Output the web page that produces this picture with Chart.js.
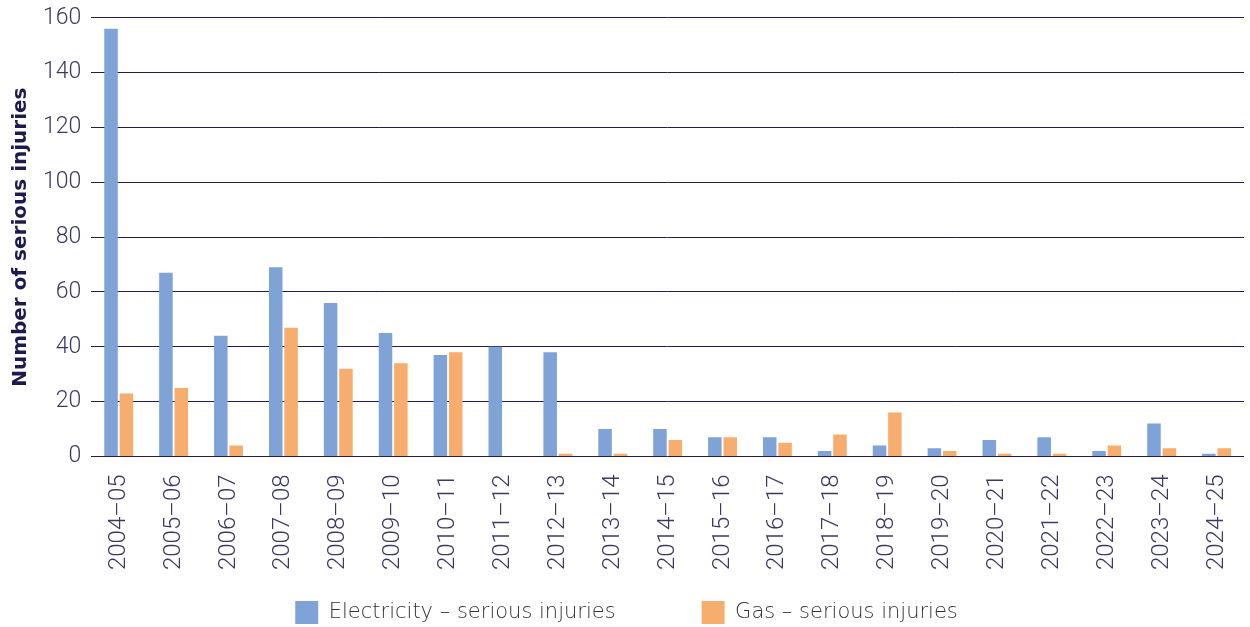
<!DOCTYPE html>
<html>
<head>
<meta charset="utf-8">
<script src="https://cdn.jsdelivr.net/npm/chart.js@4.4.1/dist/chart.umd.min.js"></script>
<style>
  html, body { margin: 0; padding: 0; background: #ffffff; overflow: hidden; }
  #wrap { position: relative; width: 1250px; height: 627px; overflow: hidden; }
  #c { display: block; }
</style>
</head>
<body>
<div id="wrap"><canvas id="c"></canvas></div>
<script>
const categories = ['2004–05','2005–06','2006–07','2007–08','2008–09','2009–10','2010–11','2011–12','2012–13','2013–14','2014–15','2015–16','2016–17','2017–18','2018–19','2019–20','2020–21','2021–22','2022–23','2023–24','2024–25'];
const electricityInjuries = [156, 67, 44, 69, 56, 45, 37, 40, 38, 10, 10, 7, 7, 2, 4, 3, 6, 7, 2, 12, 1];
const gasInjuries = [23, 25, 4, 47, 32, 34, 38, 0, 1, 1, 6, 7, 5, 8, 16, 2, 1, 1, 4, 3, 3];
const yTicks = [0, 20, 40, 60, 80, 100, 120, 140, 160];
const seriesLabels = ['Electricity – serious injuries', 'Gas – serious injuries'];
const yAxisTitle = 'Number of serious injuries';

const ITEM_GAP = 86;      // horizontal gap between legend items
const LEGEND_V = 13;      // offset of legend items from legend top
const LEGEND_H = 39;      // legend box height

const legendGapPlugin = {
  id: 'legendGap',
  beforeLayout(chart) {
    const lg = chart.legend;
    if (!lg || lg._gapPatched) return;
    lg._gapPatched = true;
    const fit = lg.fit;
    const innerDraw = lg._draw;
    lg.fit = function () {
      fit.call(this);
      this.height = LEGEND_H;
    };
    lg._draw = function () {
      const p = this.options.labels.padding;
      this.ctx.save();
      this.ctx.translate(0, LEGEND_V - p);
      innerDraw.apply(this, arguments);
      this.ctx.restore();
    };
  }
};

const tickColor = '#3b3863';
const gridColor = '#221d50';

new Chart(document.getElementById('c'), {
  type: 'bar',
  data: {
    labels: categories,
    datasets: [
      { label: seriesLabels[0], data: electricityInjuries, backgroundColor: '#7fa3d6', borderWidth: 0 },
      { label: seriesLabels[1], data: gasInjuries, backgroundColor: '#f7ad6e', borderWidth: 0 }
    ]
  },
  plugins: [legendGapPlugin],
  options: {
    responsive: true,
    maintainAspectRatio: false,
    animation: false,
    devicePixelRatio: 1,
    layout: { padding: { left: 9, right: 6, top: 0, bottom: 0 } },
    datasets: { bar: { categoryPercentage: 0.56, barPercentage: 0.88 } },
    plugins: {
      tooltip: { enabled: false },
      legend: {
        position: 'bottom',
        labels: {
          boxWidth: 23,
          boxHeight: 23,
          padding: ITEM_GAP,
          color: '#333333',
          font: { family: '"DejaVu Sans"', size: 21, weight: 200 }
        }
      }
    },
    scales: {
      x: {
        grid: { display: false, drawTicks: false },
        border: { display: false },
        ticks: {
          autoSkip: false,
          minRotation: 90,
          maxRotation: 90,
          padding: 18,
          color: tickColor,
          font: { family: 'Roboto', size: 24, weight: 300, lineHeight: 0.5 }
        }
      },
      y: {
        min: 0,
        max: 160,
        afterBuildTicks(axis) { axis.ticks = yTicks.map(v => ({ value: v })); },
        grid: { color: gridColor, lineWidth: 1, drawTicks: false },
        border: { display: false },
        ticks: {
          padding: 10,
          color: tickColor,
          font: { family: 'Roboto', size: 23, weight: 300, lineHeight: 0.68 }
        },
        title: {
          display: true,
          text: yAxisTitle,
          color: '#1e1a4d',
          padding: { top: 0, bottom: 0 },
          font: { family: '"DejaVu Sans"', size: 20, weight: 'bold' }
        }
      }
    }
  }
});
</script>
</body>
</html>
